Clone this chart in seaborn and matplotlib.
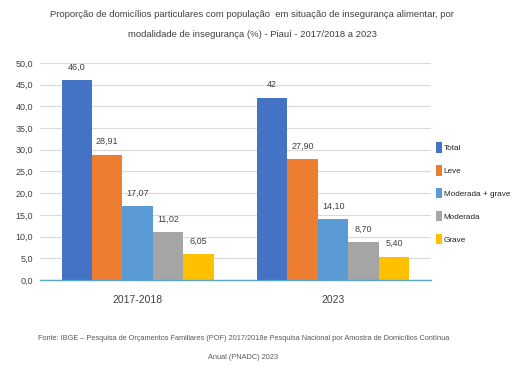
import pandas as pd
import numpy as np
import matplotlib
matplotlib.use('Agg')
import matplotlib.pyplot as plt
import seaborn as sns

# Data
periods = ['2017-2018', '2023']
modalities = ['Total', 'Leve', 'Moderada + grave', 'Moderada', 'Grave']
values_2017 = [46.0, 28.91, 17.07, 11.02, 6.05]
values_2023 = [42.0, 27.90, 14.10, 8.70, 5.40]
labels_2017 = ['46,0', '28,91', '17,07', '11,02', '6,05']
labels_2023 = ['42', '27,90', '14,10', '8,70', '5,40']
colors = ['#4472C4', '#ED7D31', '#5B9BD5', '#A5A5A5', '#FFC000']

df = pd.DataFrame({
    'periodo': [periods[0]] * 5 + [periods[1]] * 5,
    'modalidade': modalities * 2,
    'valor': values_2017 + values_2023,
})

sns.set_style('white')
plt.rcParams['font.family'] = ['Liberation Sans Narrow', 'Liberation Sans', 'DejaVu Sans']
text_color = '#404040'

fig = plt.figure(figsize=(5.13, 3.79), dpi=100)
ax = fig.add_axes([0.078, 0.261, 0.762, 0.573])

sns.barplot(data=df, x='periodo', y='valor', hue='modalidade', order=periods,
            hue_order=modalities, palette=colors, width=0.78, saturation=1,
            linewidth=0, ax=ax, legend=True)

# Value labels per modality
for i, cont in enumerate(ax.containers):
    ax.bar_label(cont, labels=[labels_2017[i], labels_2023[i]], padding=6,
                 fontsize=6.5, color=text_color)

ax.set_ylim(0, 50)
ax.set_yticks(np.arange(0, 51, 5))
ax.set_yticklabels([f'{v:.1f}'.replace('.', ',') for v in np.arange(0, 51, 5)])
ax.yaxis.grid(True, color='#D9D9D9', linewidth=0.8)
ax.set_axisbelow(True)
ax.tick_params(axis='y', labelsize=6.5, colors=text_color, length=0, pad=5)
ax.tick_params(axis='x', labelsize=7.5, colors=text_color, length=0, pad=11)
ax.set_xlabel('')
ax.set_ylabel('')
for s in ['left', 'right', 'top']:
    ax.spines[s].set_visible(False)
ax.spines['bottom'].set_color('#5BA3C9')
ax.spines['bottom'].set_linewidth(1.0)

leg = ax.legend(loc='center left', bbox_to_anchor=(1.004, 0.40), frameon=False,
                fontsize=5.9, handlelength=0.75, handleheight=1.6,
                handletextpad=0.2, labelspacing=1.5, borderaxespad=0)
for t in leg.get_texts():
    t.set_color('#222222')

fig.text(0.492, 0.962, 'Proporção de domicílios particulares com população  em situação de insegurança alimentar, por',
         ha='center', va='center', fontsize=6.8, color=text_color)
fig.text(0.492, 0.910, 'modalidade de insegurança (%) - Piauí - 2017/2018 a 2023',
         ha='center', va='center', fontsize=6.8, color=text_color)

fig.text(0.474, 0.106, 'Fonte: IBGE – Pesquisa de Orçamentos Familiares (POF) 2017/2018e Pesquisa Nacional por Amostra de Domicílios Contínua',
         ha='center', va='center', fontsize=5.3, color='#595959')
fig.text(0.474, 0.058, 'Anual (PNADC) 2023',
         ha='center', va='center', fontsize=5.3, color='#595959')

fig.savefig('out.png', dpi=100)
